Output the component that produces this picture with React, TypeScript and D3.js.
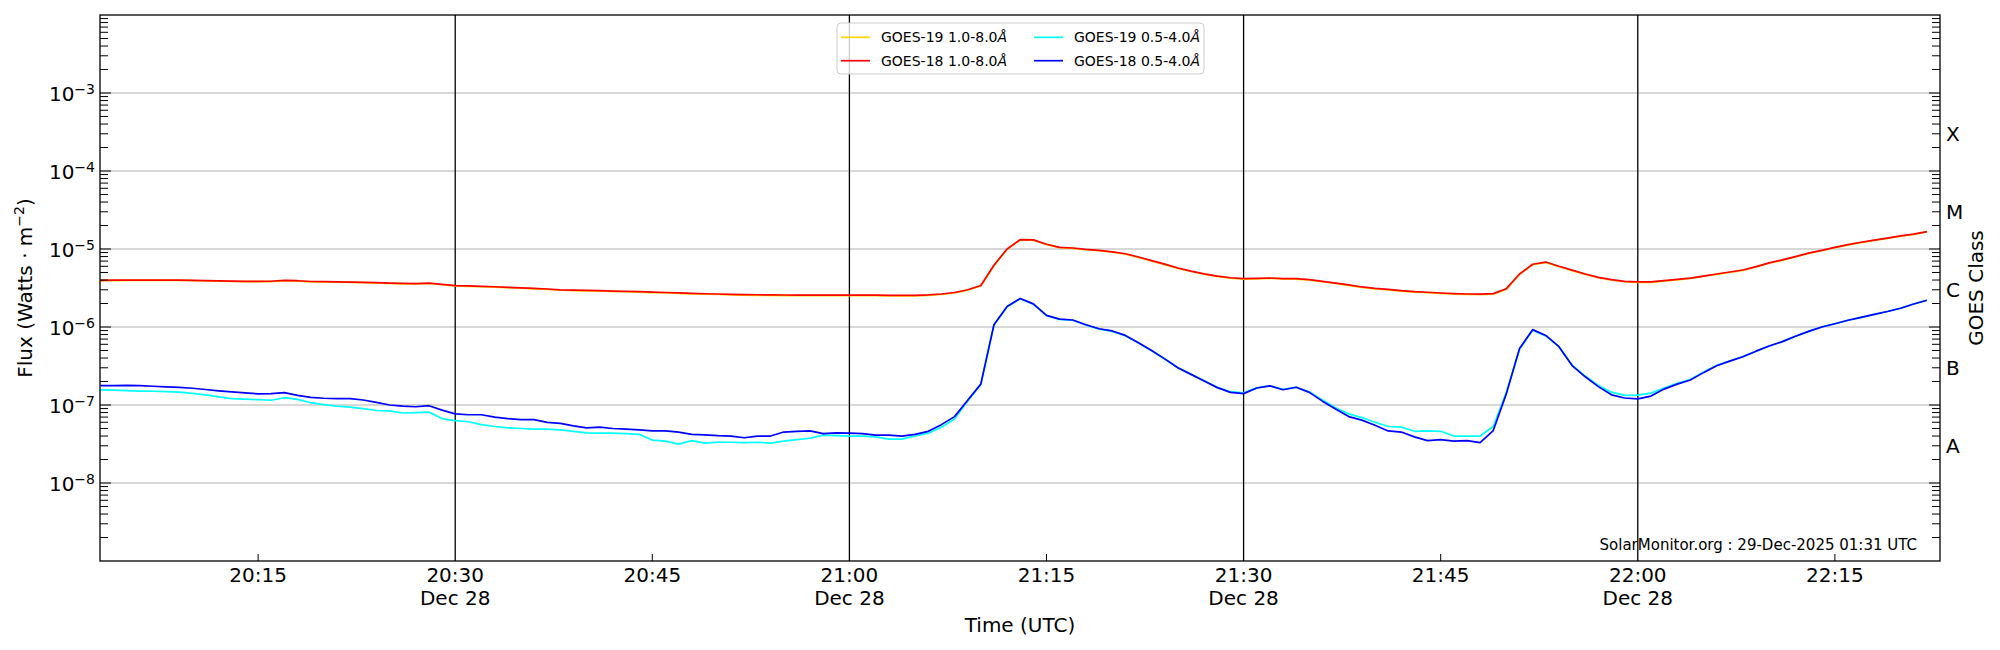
import { line, scaleLog, scaleUtc } from "d3";

// GOES X-ray flux, 1-minute cadence starting 20:03 UTC, 28 Dec 2025.
const START_UTC = Date.UTC(2025, 11, 28, 20, 3);
const MINUTE_MS = 60000;

// 1.0-8.0 Å channels, in units of 1e-6 W m^-2
const LONG_UNIT = 1e-6;
const goes19Long = [
  3.93, 3.94, 3.95, 3.96, 3.96, 3.96, 3.96, 3.93, 3.89, 3.86,
  3.83, 3.81, 3.81, 3.82, 3.92, 3.88, 3.79, 3.77, 3.75, 3.73,
  3.7, 3.66, 3.62, 3.58, 3.56, 3.61, 3.48, 3.36, 3.32, 3.28,
  3.24, 3.19, 3.14, 3.09, 3.03, 2.96, 2.93, 2.9, 2.88, 2.85,
  2.83, 2.8, 2.76, 2.73, 2.7, 2.66, 2.63, 2.61, 2.58, 2.56,
  2.55, 2.54, 2.53, 2.53, 2.53, 2.53, 2.53, 2.53, 2.52, 2.52,
  2.51, 2.51, 2.51, 2.54, 2.61, 2.73, 2.96, 3.36, 6.1, 9.9,
  13.1, 13.0, 11.4, 10.4, 10.2, 9.8, 9.5, 9.1, 8.6, 7.8,
  7.0, 6.3, 5.65, 5.15, 4.75, 4.45, 4.23, 4.11, 4.15, 4.2,
  4.13, 4.11, 3.99, 3.8, 3.62, 3.42, 3.22, 3.09, 3.0, 2.88,
  2.8, 2.75, 2.69, 2.64, 2.61, 2.6, 2.64, 3.05, 4.72, 6.3,
  6.72, 5.93, 5.29, 4.73, 4.28, 3.99, 3.8, 3.73, 3.73, 3.88,
  4.02, 4.19, 4.45, 4.73, 5.02, 5.32, 5.88, 6.56, 7.17, 7.92,
  8.77, 9.5, 10.4, 11.3, 12.1, 12.9, 13.7, 14.6, 15.4, 16.6,
];
const goes18Long = [
  3.97, 3.98, 3.99, 4.0, 4.0, 4.0, 4.0, 3.97, 3.93, 3.9,
  3.87, 3.85, 3.85, 3.86, 3.97, 3.92, 3.83, 3.81, 3.79, 3.77,
  3.74, 3.7, 3.66, 3.62, 3.6, 3.66, 3.52, 3.4, 3.36, 3.32,
  3.28, 3.23, 3.18, 3.13, 3.07, 3.0, 2.97, 2.94, 2.92, 2.89,
  2.87, 2.84, 2.8, 2.77, 2.74, 2.7, 2.67, 2.65, 2.62, 2.6,
  2.59, 2.58, 2.57, 2.57, 2.57, 2.57, 2.57, 2.57, 2.56, 2.56,
  2.55, 2.55, 2.55, 2.58, 2.65, 2.77, 3.0, 3.4, 6.2, 10.0,
  13.2, 13.1, 11.5, 10.5, 10.3, 9.9, 9.6, 9.2, 8.7, 7.9,
  7.1, 6.4, 5.7, 5.2, 4.8, 4.5, 4.28, 4.16, 4.2, 4.25,
  4.18, 4.16, 4.04, 3.85, 3.66, 3.46, 3.26, 3.13, 3.04, 2.92,
  2.84, 2.79, 2.73, 2.68, 2.65, 2.64, 2.68, 3.1, 4.78, 6.37,
  6.8, 6.0, 5.35, 4.78, 4.33, 4.04, 3.85, 3.78, 3.78, 3.93,
  4.07, 4.24, 4.5, 4.78, 5.07, 5.38, 5.94, 6.63, 7.24, 8.0,
  8.85, 9.6, 10.5, 11.4, 12.2, 13.0, 13.8, 14.7, 15.5, 16.7,
];

// 0.5-4.0 Å channels, in units of 1e-8 W m^-2
const SHORT_UNIT = 1e-8;
const goes19Short = [
  15.6, 15.5, 15.3, 15.1, 15.0, 14.8, 14.6, 14.1, 13.5, 12.7,
  12.1, 11.9, 11.7, 11.5, 12.4, 11.8, 10.7, 10.1, 9.7, 9.4,
  9.0, 8.5, 8.4, 7.9, 8.0, 8.1, 6.7, 6.3, 6.1, 5.6,
  5.3, 5.1, 5.0, 4.9, 4.9, 4.8, 4.6, 4.4, 4.35, 4.35,
  4.3, 4.2, 3.55, 3.45, 3.15, 3.5, 3.25, 3.35, 3.33, 3.3,
  3.33, 3.25, 3.45, 3.6, 3.75, 4.1, 4.05, 4.0, 4.0, 3.9,
  3.65, 3.65, 4.0, 4.35, 5.2, 6.6, 11.2, 18.3, 106, 181,
  230, 196, 140, 125, 122, 106, 94, 88, 77.5, 62.5,
  49.5, 38.8, 30, 24.8, 20.5, 16.9, 14.8, 14.3, 16.6, 17.6,
  15.9, 16.9, 14.8, 11.6, 9.2, 7.7, 6.9, 6.0, 5.3, 5.2,
  4.6, 4.65, 4.6, 4.0, 4.0, 4.0, 5.3, 14.5, 52, 91,
  77, 56, 32.5, 23.5, 17.8, 14.6, 13.3, 13.4, 14.2, 16.5,
  19.0, 21.2, 26.5, 32.2, 36.7, 41.8, 49, 57, 65, 76,
  88, 100, 110, 122, 133, 145, 158, 174, 197, 220,
];
const goes18Short = [
  17.7, 17.7, 17.8, 17.7, 17.4, 17.1, 16.8, 16.4, 15.8, 15.2,
  14.7, 14.3, 13.9, 14.0, 14.4, 13.3, 12.5, 12.2, 12.1, 12.1,
  11.6, 10.8, 10.0, 9.7, 9.5, 9.8, 8.6, 7.7, 7.5, 7.5,
  7.0, 6.7, 6.5, 6.5, 6.0, 5.8, 5.4, 5.1, 5.2, 5.0,
  4.9, 4.8, 4.65, 4.65, 4.5, 4.2, 4.15, 4.05, 4.0, 3.8,
  4.0, 4.0, 4.5, 4.6, 4.65, 4.3, 4.4, 4.35, 4.3, 4.1,
  4.1, 4.0, 4.2, 4.6, 5.6, 7.1, 11.5, 18.5, 107, 183,
  232, 198, 141, 126, 123, 107, 95, 89, 78, 63,
  50, 39, 30, 24.7, 20.3, 16.7, 14.5, 14.0, 16.5, 17.6,
  15.7, 16.9, 14.5, 11.2, 8.9, 7.1, 6.4, 5.5, 4.65, 4.5,
  3.9, 3.5, 3.6, 3.45, 3.5, 3.3, 4.7, 14.0, 53, 92.5,
  78, 56, 32, 23, 17.2, 13.5, 12.3, 12.0, 13.0, 16.0,
  18.5, 20.9, 26, 31.9, 36.5, 41.6, 49, 57, 65, 76,
  88, 100, 110, 122, 133, 145, 158, 174, 197, 220,
];

const seriesInfo = [
  { label: "GOES-19 1.0-8.0", color: "#ffd700", values: goes19Long, unit: LONG_UNIT },
  { label: "GOES-18 1.0-8.0", color: "#ff0000", values: goes18Long, unit: LONG_UNIT },
  { label: "GOES-19 0.5-4.0", color: "#00ffff", values: goes19Short, unit: SHORT_UNIT },
  { label: "GOES-18 0.5-4.0", color: "#0000ff", values: goes18Short, unit: SHORT_UNIT },
];

const minorTimeTicks = ["20:15", "20:45", "21:15", "21:45", "22:15"];
const dayTimeTicks = ["20:30", "21:00", "21:30", "22:00"];
const dayLabel = "Dec 28";
const decadeExponents = [-8, -7, -6, -5, -4, -3];
const goesClasses = ["A", "B", "C", "M", "X"];
const classExponents = [-8, -7, -6, -5, -4];
const stamp = "SolarMonitor.org : 29-Dec-2025 01:31 UTC";

const W = 2000,
  H = 650;
const M = { left: 100, right: 1940, top: 15, bottom: 561 };
const FONT = "DejaVu Sans, sans-serif";

const hhmm = (s: string) => {
  const [h, m] = s.split(":").map(Number);
  return new Date(Date.UTC(2025, 11, 28, h, m));
};

export default function App() {
  const x = scaleUtc()
    .domain([new Date(Date.UTC(2025, 11, 28, 20, 2, 58)), new Date(Date.UTC(2025, 11, 28, 22, 23, 0))])
    .range([M.left, M.right]);
  const y = scaleLog().domain([1e-9, 1e-2]).range([M.bottom, M.top]);

  const minorY: number[] = [];
  for (let e = -9; e < -2; e++) for (let k = 2; k <= 9; k++) minorY.push(k * Math.pow(10, e));

  const paths = seriesInfo.map((s) => {
    const pts = s.values.map((v, i) => [new Date(START_UTC + i * MINUTE_MS), v * s.unit] as [Date, number]);
    const gen = line<[Date, number]>()
      .x((d) => x(d[0]))
      .y((d) => y(d[1]));
    return { ...s, d: gen(pts) || "" };
  });

  const legendRows = [
    [0, 2],
    [1, 3],
  ];

  return (
    <>
      <style>{"body{margin:0}"}</style>
      <svg width={W} height={H} viewBox={`0 0 ${W} ${H}`} fontFamily={FONT} style={{ display: "block", background: "#fff" }}>
        {/* horizontal grid */}
        {decadeExponents.map((e) => (
          <line key={e} x1={M.left} x2={M.right} y1={y(Math.pow(10, e))} y2={y(Math.pow(10, e))} stroke="#b0b0b0" strokeWidth={1.1} />
        ))}

        {/* day markers */}
        {dayTimeTicks.map((t) => (
          <line key={t} x1={x(hhmm(t))} x2={x(hhmm(t))} y1={M.top} y2={M.bottom} stroke="#000" strokeWidth={1.3} />
        ))}

        <text x={1917} y={550} fontSize={15} textAnchor="end" fill="#000">
          {stamp}
        </text>

        {/* data */}
        {paths.map((p) => (
          <path key={p.label} d={p.d} fill="none" stroke={p.color} strokeWidth={1.7} strokeLinejoin="round" />
        ))}

        {/* left and right ticks */}
        {minorY.map((v, i) => (
          <g key={i} stroke="#000" strokeWidth={1}>
            <line x1={M.left} x2={M.left + 8} y1={y(v)} y2={y(v)} />
            <line x1={M.right - 8} x2={M.right} y1={y(v)} y2={y(v)} />
          </g>
        ))}
        {decadeExponents.map((e) => (
          <g key={e} stroke="#000" strokeWidth={1}>
            <line x1={M.left} x2={M.left + 11} y1={y(Math.pow(10, e))} y2={y(Math.pow(10, e))} />
            <line x1={M.right - 11} x2={M.right} y1={y(Math.pow(10, e))} y2={y(Math.pow(10, e))} />
          </g>
        ))}

        {/* bottom ticks */}
        {minorTimeTicks.map((t) => (
          <line key={t} x1={x(hhmm(t))} x2={x(hhmm(t))} y1={M.bottom} y2={M.bottom - 7} stroke="#000" strokeWidth={1} />
        ))}

        {/* frame */}
        <rect x={M.left} y={M.top} width={M.right - M.left} height={M.bottom - M.top} fill="none" stroke="#000" strokeWidth={1.3} />

        {/* y tick labels */}
        {decadeExponents.map((e) => (
          <text key={e} x={95} y={y(Math.pow(10, e)) + 8.4} fontSize={20} textAnchor="end" fill="#000">
            10
            <tspan dy={-7.6} fontSize={14}>
              {"\u2212" + Math.abs(e)}
            </tspan>
          </text>
        ))}

        {/* x tick labels */}
        {minorTimeTicks.map((t) => (
          <text key={t} x={x(hhmm(t))} y={582} fontSize={20} textAnchor="middle" fill="#000">
            {t}
          </text>
        ))}
        {dayTimeTicks.map((t) => (
          <text key={t} x={x(hhmm(t))} y={582} fontSize={20} textAnchor="middle" fill="#000">
            <tspan x={x(hhmm(t))}>{t}</tspan>
            <tspan x={x(hhmm(t))} dy={23}>
              {dayLabel}
            </tspan>
          </text>
        ))}

        {/* GOES class labels */}
        {goesClasses.map((c, i) => (
          <text key={c} x={1946} y={y(3 * Math.pow(10, classExponents[i])) + 7.5} fontSize={20} fill="#000">
            {c}
          </text>
        ))}

        {/* axis titles */}
        <text x={1020} y={632} fontSize={20} textAnchor="middle" fill="#000">
          Time (UTC)
        </text>
        <text transform={`translate(32,${(M.top + M.bottom) / 2}) rotate(-90)`} fontSize={20} textAnchor="middle" fill="#000">
          Flux (Watts · m
          <tspan dy={-7.6} fontSize={14}>
            {"\u22122"}
          </tspan>
          <tspan dy={7.6}>)</tspan>
        </text>
        <text transform={`translate(1983,${(M.top + M.bottom) / 2}) rotate(-90)`} fontSize={20} textAnchor="middle" fill="#000">
          GOES Class
        </text>

        {/* legend */}
        <rect x={837} y={23} width={367} height={51} rx={4} fill="#fff" fillOpacity={0.8} stroke="#cccccc" strokeWidth={1} />
        {legendRows.map((row, r) =>
          row.map((si, c) => {
            const s = seriesInfo[si];
            const ly = 37.3 + r * 23.4;
            const hx = c === 0 ? 841 : 1034;
            return (
              <g key={s.label}>
                <line x1={hx} x2={hx + 29} y1={ly} y2={ly} stroke={s.color} strokeWidth={1.7} />
                <text x={hx + 40} y={ly + 5} fontSize={14} fill="#000">
                  {s.label}
                  <tspan fontStyle="italic">Å</tspan>
                </text>
              </g>
            );
          })
        )}
      </svg>
    </>
  );
}
